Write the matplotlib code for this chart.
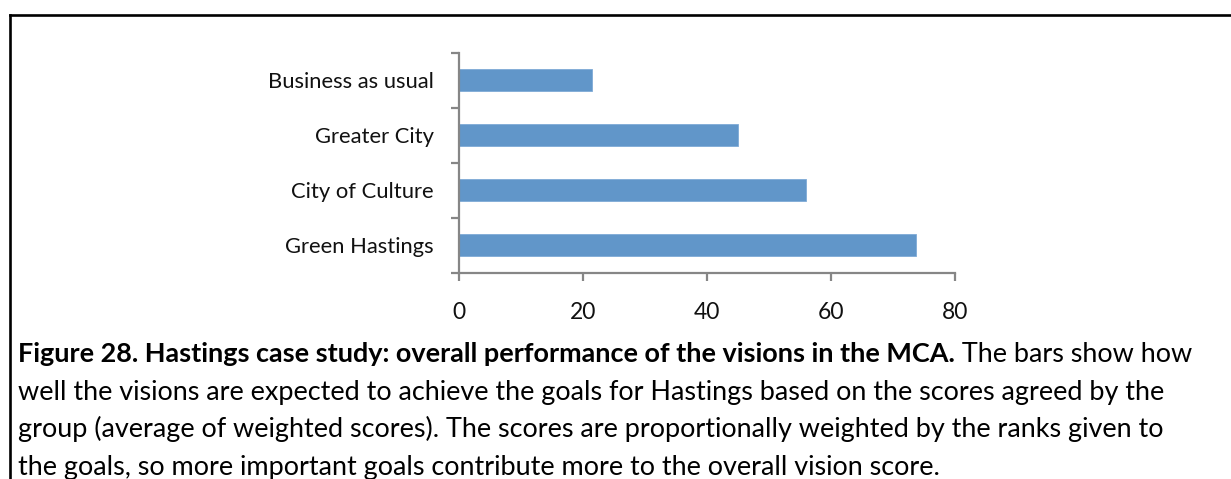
import matplotlib
matplotlib.use("Agg")
import matplotlib.pyplot as plt
from matplotlib.lines import Line2D
from matplotlib.ticker import FixedLocator, NullFormatter, FixedFormatter

# Vision scores (average of weighted scores), bottom to top
categories = ["Green Hastings", "City of Culture", "Greater City", "Business as usual"]
scores = [73.7, 56.0, 45.0, 21.5]
x_ticks = [0, 20, 40, 60, 80]

caption_bold = "Figure 28. Hastings case study: overall performance of the visions in the MCA."
caption_lines = [
    " The bars show how",
    "well the visions are expected to achieve the goals for Hastings based on the scores agreed by the",
    "group (average of weighted scores). The scores are proportionally weighted by the ranks given to",
    "the goals, so more important goals contribute more to the overall vision score.",
]

plt.rcParams["font.family"] = ["Lato", "DejaVu Sans"]

W, H = 1231, 479
fig = plt.figure(figsize=(W / 100, H / 100), dpi=100)
fig.patch.set_facecolor("white")


def fx(px):
    return px / W


def fy(py):
    return 1 - py / H


axis_grey = "#868686"
bar_blue = "#6196C9"

ax = fig.add_axes([fx(459), fy(272.5), fx(955) - fx(459), fy(52.5) - fy(272.5)])
pos = list(range(len(categories)))
ax.barh(pos, scores, height=0.4, color=bar_blue, edgecolor="#7FAAD6", linewidth=0.6)
ax.set_xlim(0, 80)
ax.set_ylim(-0.5, len(categories) - 0.5)

for s in ("top", "right"):
    ax.spines[s].set_visible(False)
for s in ("left", "bottom"):
    ax.spines[s].set_color(axis_grey)
    ax.spines[s].set_linewidth(1.6)

ax.set_xticks(x_ticks)
ax.set_xticklabels([str(v) for v in x_ticks], fontsize=16.5, color="#111111")
ax.tick_params(axis="x", direction="out", length=5.5, width=1.6, color=axis_grey, pad=16)

# category boundaries carry the tick marks, centres carry the labels
ax.yaxis.set_major_locator(FixedLocator([p - 0.5 for p in pos] + [pos[-1] + 0.5]))
ax.yaxis.set_major_formatter(NullFormatter())
ax.yaxis.set_minor_locator(FixedLocator(pos))
ax.yaxis.set_minor_formatter(FixedFormatter(categories))
ax.tick_params(axis="y", which="major", direction="out", length=5.5, width=1.6, color=axis_grey)
ax.tick_params(axis="y", which="minor", length=0, pad=18, labelsize=15.8, labelcolor="#111111")

# frame lines along the left and top edges
fig.add_artist(Line2D([fx(9.5), fx(9.5)], [fy(15), 0], transform=fig.transFigure,
                      color="black", linewidth=1.9, solid_capstyle="projecting"))
fig.add_artist(Line2D([fx(9.5), 1], [fy(15), fy(15)], transform=fig.transFigure,
                      color="black", linewidth=1.9, solid_capstyle="projecting"))

# caption: size chosen so the second line spans its measured width
renderer = fig.canvas.get_renderer()
probe = fig.text(0, 0, caption_lines[1], fontsize=16)
probe_w = probe.get_window_extent(renderer).width
probe.remove()
cap_size = 16 * (1172 - 18) / probe_w

left = fx(18)
baselines = [362, 399.7, 437.3, 475]
bold = fig.text(left, fy(baselines[0]), caption_bold, fontsize=cap_size,
                fontweight="bold", va="baseline", ha="left", color="black")
bx1 = bold.get_window_extent(renderer).x1
fig.text(bx1 / W, fy(baselines[0]), caption_lines[0], fontsize=cap_size,
         va="baseline", ha="left", color="black")
for line, b in zip(caption_lines[1:], baselines[1:]):
    fig.text(left, fy(b), line, fontsize=cap_size, va="baseline", ha="left", color="black")

fig.savefig("out.png", dpi=100)
